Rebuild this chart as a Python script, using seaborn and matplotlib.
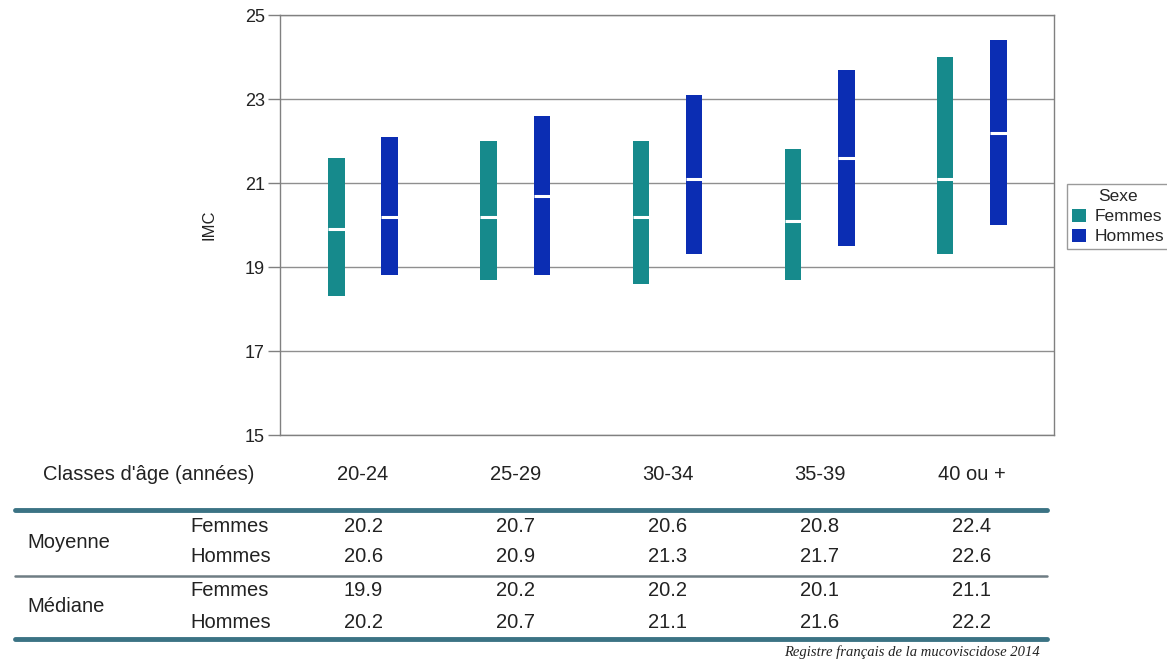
import matplotlib
matplotlib.use("Agg")
import numpy as np
import pandas as pd
import matplotlib.pyplot as plt
import seaborn as sns
from matplotlib import transforms
from matplotlib.lines import Line2D

# --- data ---
age_classes = ["20-24", "25-29", "30-34", "35-39", "40 ou +"]
sexes = ["Femmes", "Hommes"]

# bar limits (lower / upper quartile) per age class
q1_femmes = [18.3, 18.7, 18.6, 18.7, 19.3]
q3_femmes = [21.6, 22.0, 22.0, 21.8, 24.0]
q1_hommes = [18.8, 18.8, 19.3, 19.5, 20.0]
q3_hommes = [22.1, 22.6, 23.1, 23.7, 24.4]

moyenne_femmes = [20.2, 20.7, 20.6, 20.8, 22.4]
moyenne_hommes = [20.6, 20.9, 21.3, 21.7, 22.6]
mediane_femmes = [19.9, 20.2, 20.2, 20.1, 21.1]
mediane_hommes = [20.2, 20.7, 21.1, 21.6, 22.2]

y_ticks = [15, 17, 19, 21, 23, 25]

palette = {"Femmes": "#168a8c", "Hommes": "#0b2db3"}
line_col = "#3b7384"

df = pd.DataFrame({
    "age": age_classes * 2,
    "sexe": ["Femmes"] * len(age_classes) + ["Hommes"] * len(age_classes),
    "q1": q1_femmes + q1_hommes,
    "q3": q3_femmes + q3_hommes,
    "mediane": mediane_femmes + mediane_hommes,
})
df["etendue"] = df["q3"] - df["q1"]

sns.set_theme(style="white")
plt.rcParams["font.family"] = ["Liberation Sans", "DejaVu Sans"]

W, H = 1167, 661
fig = plt.figure(figsize=(W / 100, H / 100), dpi=100)
ax = fig.add_axes([280 / W, 1 - 435 / H, 774 / W, 420 / H])

sns.barplot(
    data=df, x="age", y="etendue", hue="sexe",
    order=age_classes, hue_order=sexes, palette=palette,
    width=0.7, gap=0.69, saturation=1, errorbar=None,
    linewidth=0, ax=ax,
)

# floating bars: shift each bar to start at q1 and mark the median
for sexe, container in zip(sexes, ax.containers):
    sub = df[df["sexe"] == sexe].set_index("age").loc[age_classes]
    for bar, lo, med in zip(container, sub["q1"], sub["mediane"]):
        bar.set_y(lo)
        x0, w = bar.get_x(), bar.get_width()
        ax.plot([x0, x0 + w], [med, med], color="white", lw=2.2,
                solid_capstyle="butt", zorder=3)

ax.set_xlim(-0.546, 4.54)
ax.set_ylim(15, 25)
ax.set_yticks(y_ticks)
ax.yaxis.grid(True, color="#8f8f8f", lw=1)
ax.set_axisbelow(True)
for sp in ax.spines.values():
    sp.set_color("#808080")
    sp.set_linewidth(1)
ax.tick_params(axis="y", left=True, length=9, width=1, color="#808080",
               labelsize=13, pad=2, labelcolor="#222222")
ax.tick_params(axis="x", bottom=False, labelbottom=False)
ax.set_xlabel("")
ax.set_ylabel("IMC", fontsize=12, color="#222222", labelpad=20)

ax.legend(
    title="Sexe", loc="upper left",
    bbox_to_anchor=(1067 / W, 1 - 184 / H), bbox_transform=fig.transFigure,
    frameon=True, fancybox=False, edgecolor="#9a9a9a", framealpha=1,
    fontsize=12.5, title_fontsize=12.5, handlelength=0.8, handleheight=0.8,
    borderpad=0.3, labelspacing=0.25, handletextpad=0.5, borderaxespad=0,
)

# --- table below the chart ---
def fy(px):
    return 1 - px / H

trans = transforms.blended_transform_factory(ax.transData, fig.transFigure)
txt = dict(fontsize=14.5, color="#222222", va="center")

fig.text(43 / W, fy(475), "Classes d'âge (années)", ha="left", **txt)
for i, lab in enumerate(age_classes):
    ax.text(i, fy(475), lab, transform=trans, ha="center", **txt)

for y, lw, col in [(510, 3.5, line_col), (576, 1.8, "#6f7d84"), (639, 3.5, line_col)]:
    fig.add_artist(Line2D([15 / W, 1047 / W], [fy(y), fy(y)], color=col, lw=lw))

fig.text(27 / W, fy(542), "Moyenne", ha="left", **txt)
fig.text(27 / W, fy(607), "Médiane", ha="left", **txt)

rows = [
    (527, "Femmes", moyenne_femmes),
    (557, "Hommes", moyenne_hommes),
    (590, "Femmes", mediane_femmes),
    (623, "Hommes", mediane_hommes),
]
for y, sexe, vals in rows:
    fig.text(190 / W, fy(y), sexe, ha="left", **txt)
    for i, v in enumerate(vals):
        ax.text(i, fy(y), f"{v:.1f}", transform=trans, ha="center", **txt)

fig.text(1040 / W, fy(652), "Registre français de la mucoviscidose 2014",
         ha="right", va="center", fontsize=10.5, style="italic",
         family=["Liberation Serif", "DejaVu Serif"], color="#222222")

fig.savefig("out.png", dpi=100)
